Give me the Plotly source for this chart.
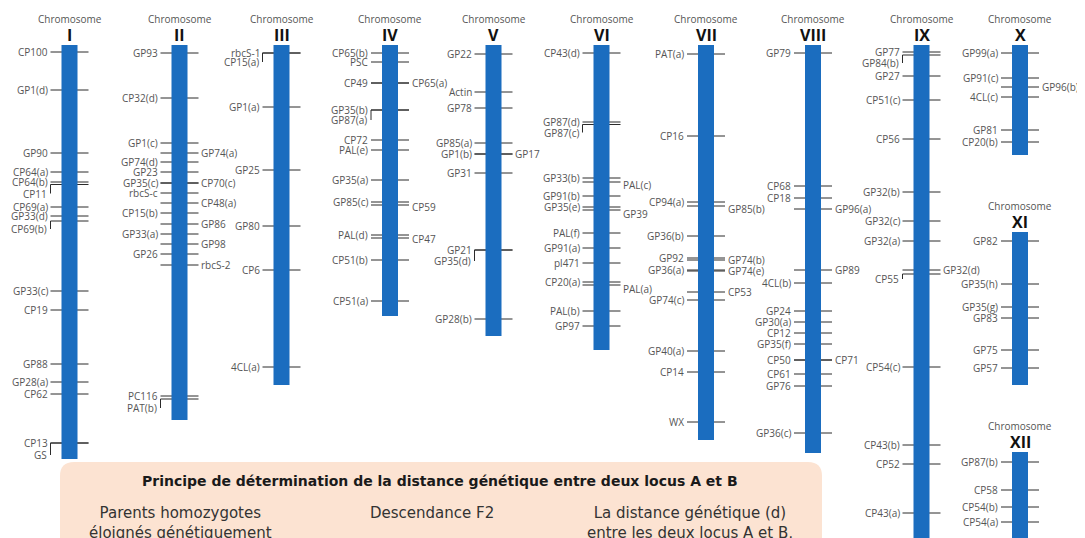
import plotly.graph_objects as go

# ---------------- data : markers per chromosome ----------------
# (name, map position from chromosome top, label side, label drop for bracketed labels)
CHR_I = [("CP100", 7, "L", 0), ("GP1(d)", 45, "L", 0), ("GP90", 108, "L", 0),
         ("CP64(a)", 127, "L", 0), ("CP64(b)", 137, "L", 0), ("CP11", 139.5, "L", 9),
         ("CP69(a)", 162, "L", 0), ("GP33(d)", 171, "L", 0), ("CP69(b)", 176, "L", 8),
         ("GP33(c)", 246, "L", 0), ("CP19", 265, "L", 0), ("GP88", 319, "L", 0),
         ("GP28(a)", 337, "L", 0), ("CP62", 349, "L", 0), ("CP13", 398, "L", 0),
         ("GS", 398, "L", 12)]
CHR_II = [("GP93", 8, "L", 0), ("CP32(d)", 53, "L", 0), ("GP1(c)", 98, "L", 0),
          ("GP74(a)", 108, "R", 0), ("GP74(d)", 117, "L", 0), ("GP23", 127, "L", 0),
          ("GP35(c)", 138, "L", 0), ("CP70(c)", 138, "R", 0), ("rbcS-c", 148, "L", 0),
          ("CP48(a)", 158, "R", 0), ("CP15(b)", 168, "L", 0), ("GP86", 179, "R", 0),
          ("GP33(a)", 189, "L", 0), ("GP98", 199, "R", 0), ("GP26", 209, "L", 0),
          ("rbcS-2", 220, "R", 0), ("PC116", 351, "L", 0), ("PAT(b)", 354, "L", 9)]
CHR_III = [("rbcS-1", 8, "L", 0), ("CP15(a)", 8, "L", 9), ("GP1(a)", 62, "L", 0),
           ("GP25", 125, "L", 0), ("GP80", 181, "L", 0), ("CP6", 225, "L", 0),
           ("4CL(a)", 322, "L", 0)]
CHR_IV = [("CP65(b)", 8, "L", 0), ("PSC", 17, "L", 0), ("CP49", 38, "L", 0),
          ("CP65(a)", 38, "R", 0), ("GP35(b)", 65, "L", 0), ("GP87(a)", 65, "L", 10),
          ("CP72", 95, "L", 0), ("PAL(e)", 105, "L", 0), ("GP35(a)", 135, "L", 0),
          ("GP85(c)", 157, "L", 0), ("CP59", 160, "R", 2), ("PAL(d)", 190, "L", 0),
          ("CP47", 193, "R", 1), ("CP51(b)", 215, "L", 0), ("CP51(a)", 256, "L", 0)]
CHR_V = [("GP22", 9, "L", 0), ("Actin", 47, "L", 0), ("GP78", 63, "L", 0),
         ("GP85(a)", 98, "L", 0), ("GP1(b)", 109, "L", 0), ("GP17", 109, "R", 0),
         ("GP31", 128, "L", 0), ("GP21", 205, "L", 0), ("GP35(d)", 205, "L", 11),
         ("GP28(b)", 274, "L", 0)]
CHR_VI = [("CP43(d)", 8, "L", 0), ("GP87(d)", 77, "L", 0), ("GP87(c)", 79.5, "L", 8),
          ("GP33(b)", 133, "L", 0), ("PAL(c)", 137, "R", 3), ("GP91(b)", 151, "L", 0),
          ("GP35(e)", 162, "L", 0), ("GP39", 165, "R", 4), ("PAL(f)", 188, "L", 0),
          ("GP91(a)", 203, "L", 0), ("pl471", 218, "L", 0), ("CP20(a)", 237, "L", 0),
          ("PAL(a)", 240, "R", 4), ("PAL(b)", 266, "L", 0), ("GP97", 281, "L", 0)]
CHR_VII = [("PAT(a)", 9, "L", 0), ("CP16", 91, "L", 0), ("CP94(a)", 157, "L", 0),
           ("GP85(b)", 161, "R", 3), ("GP36(b)", 191, "L", 0), ("GP92", 213, "L", 0),
           ("GP74(b)", 215, "R", 0), ("GP36(a)", 225, "L", 0), ("GP74(e)", 226, "R", 0),
           ("CP53", 247, "R", 0), ("GP74(c)", 255, "L", 0), ("GP40(a)", 306, "L", 0),
           ("CP14", 327, "L", 0), ("WX", 377, "L", 0)]
CHR_VIII = [("GP79", 8, "L", 0), ("CP68", 141, "L", 0), ("CP18", 153, "L", 0),
            ("GP96(a)", 164, "R", 0), ("GP89", 225, "R", 0), ("4CL(b)", 238, "L", 0),
            ("GP24", 266, "L", 0), ("GP30(a)", 277, "L", 0), ("CP12", 288, "L", 0),
            ("GP35(f)", 299, "L", 0), ("CP50", 315, "L", 0), ("CP71", 315, "R", 0),
            ("CP61", 329, "L", 0), ("GP76", 341, "L", 0), ("GP36(c)", 388, "L", 0)]
CHR_IX = [("GP77", 7, "L", 0), ("GP84(b)", 10, "L", 8), ("GP27", 31, "L", 0),
          ("CP51(c)", 55, "L", 0), ("CP56", 94, "L", 0), ("GP32(b)", 147, "L", 0),
          ("GP32(c)", 176, "L", 0), ("GP32(a)", 196, "L", 0), ("GP32(d)", 225, "R", 0),
          ("CP55", 229, "L", 5), ("CP54(c)", 322, "L", 0), ("CP43(b)", 400, "L", 0),
          ("CP52", 419, "L", 0), ("CP43(a)", 468, "L", 0)]
CHR_X = [("GP99(a)", 8, "L", 0), ("GP91(c)", 33, "L", 0), ("GP96(b)", 42, "R", 0),
         ("4CL(c)", 52, "L", 0), ("GP81", 85, "L", 0), ("CP20(b)", 97, "L", 0)]
CHR_XI = [("GP82", 9, "L", 0), ("GP35(h)", 52, "L", 0), ("GP35(g)", 75, "L", 0),
          ("GP83", 86, "L", 0), ("GP75", 118, "L", 0), ("GP57", 136, "L", 0)]
CHR_XII = [("GP87(b)", 10, "L", 0), ("CP58", 38, "L", 0), ("CP54(b)", 55, "L", 0),
           ("CP54(a)", 70, "L", 0)]

CHROM_NAMES = ["I", "II", "III", "IV", "V", "VI", "VII", "VIII", "IX", "X", "XI", "XII"]
CHROM_LENGTHS = [414, 375, 340, 271, 291, 305, 395, 408, 520, 110, 153, 120]
CHROM_MARKERS = [CHR_I, CHR_II, CHR_III, CHR_IV, CHR_V, CHR_VI, CHR_VII, CHR_VIII,
                 CHR_IX, CHR_X, CHR_XI, CHR_XII]

BOX_TITLE = "Principe de détermination de la distance génétique entre deux locus A et B"
BOX_COLS = ["Parents homozygotes<br>éloignés génétiquement", "Descendance F2",
            "La distance génétique (d)<br>entre les deux locus A et B,"]

# ---------------- layout ----------------
W, H = 1085, 538
PAGE_OFF = 8          # default page margin around the figure
COL_X = [69.5, 179.5, 281.5, 390, 493.5, 601.5, 706, 813, 921.5, 1020, 1020, 1020]
COL_TOP = [45, 45, 45, 45, 45, 45, 45, 45, 45, 45, 232, 452]
BAR_HALF = 8
TICK_L, TICK_R = 19, 19
BLUE = "#1b6dbf"
LABEL_FONT = dict(family="Open Sans, sans-serif", size=10, color="#555555")
BOX_FONT = "DejaVu Sans, sans-serif"

fig = go.Figure()
shapes = []
annotations = []

# explanation box at the bottom
shapes.append(dict(type="path", xref="x", yref="y",
                   path="M 74,462 L 808,462 Q 822,462 822,476 L 822,580 L 60,580 L 60,476 Q 60,462 74,462 Z",
                   fillcolor="#fce3d2", line=dict(width=0), layer="below"))
annotations.append(dict(x=440, y=481, text="<b>" + BOX_TITLE + "</b>", showarrow=False,
                        xanchor="center", yanchor="middle",
                        font=dict(family=BOX_FONT, size=14, color="#1a1a1a")))
for cx, txt in zip([180, 432, 690], BOX_COLS):
    annotations.append(dict(x=cx, y=502, text=txt, showarrow=False, xanchor="center",
                            yanchor="top", align="center",
                            font=dict(family=BOX_FONT, size=15, color="#333333")))

for name, length, markers, cx, top in zip(CHROM_NAMES, CHROM_LENGTHS, CHROM_MARKERS,
                                          COL_X, COL_TOP):
    # chromosome body
    shapes.append(dict(type="rect", xref="x", yref="y", x0=cx - BAR_HALF, x1=cx + BAR_HALF,
                       y0=top, y1=top + length, fillcolor=BLUE, line=dict(width=0),
                       layer="above"))
    annotations.append(dict(x=cx, y=top - 26, text="Chromosome", showarrow=False,
                            xanchor="center", yanchor="middle",
                            font=dict(family="Open Sans, sans-serif", size=10, color="#555555")))
    annotations.append(dict(x=cx, y=top - 10, text="<b>" + name + "</b>", showarrow=False,
                            xanchor="center", yanchor="middle",
                            font=dict(family="Open Sans, sans-serif", size=16, color="#111111")))
    xs, ys = [], []
    for label, pos, side, drop in markers:
        y = top + pos
        xs += [cx - TICK_L, cx + TICK_R, None]
        ys += [y, y, None]
        if side == "L":
            if drop > 4:
                xs += [cx - TICK_L, cx - TICK_L, None]
                ys += [y, y + drop, None]
                lx = cx - TICK_L - 2
            else:
                lx = cx - TICK_L - 1
            annotations.append(dict(x=lx, y=y + drop, text=label, showarrow=False,
                                    xanchor="right", yanchor="middle", font=LABEL_FONT))
        else:
            annotations.append(dict(x=cx + TICK_R + 0.5, y=y + drop, text=label,
                                    showarrow=False, xanchor="left", yanchor="middle",
                                    font=LABEL_FONT))
    fig.add_trace(go.Scatter(x=xs, y=ys, mode="lines", hoverinfo="skip",
                             line=dict(color="#2b2b2b", width=1), showlegend=False))

fig.update_layout(width=W, height=H, margin=dict(l=0, r=0, t=0, b=0),
                  paper_bgcolor="white", plot_bgcolor="white",
                  shapes=shapes, annotations=annotations, showlegend=False)
fig.update_xaxes(range=[PAGE_OFF, W + PAGE_OFF], visible=False, fixedrange=True)
fig.update_yaxes(range=[H + PAGE_OFF, PAGE_OFF], visible=False, fixedrange=True)
fig.write_html("out.html")
